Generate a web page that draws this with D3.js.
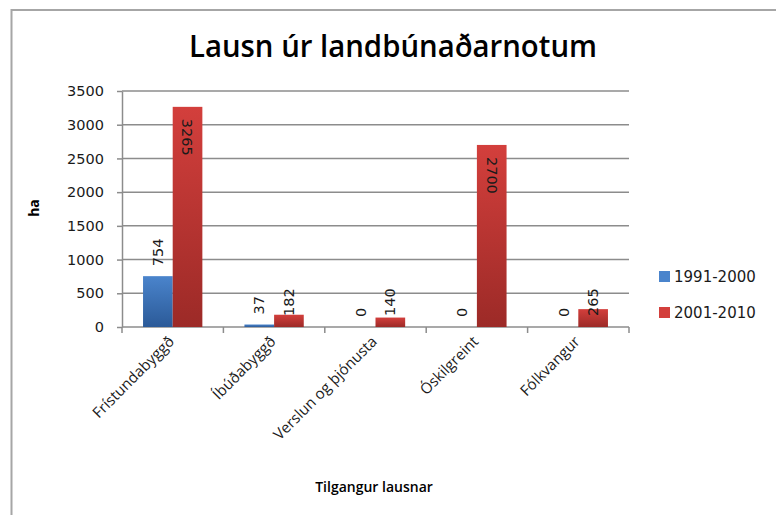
<!DOCTYPE html>
<html>
<head>
<meta charset="utf-8">
<script src="https://cdn.jsdelivr.net/npm/d3@7"></script>
<style>
    body { margin: 0; background: #fff; }
    svg { display: block; }
</style>
</head>
<body>
<div id="chart"></div>
<script>

const categories = ['Frístundabyggð', 'Íbúðabyggð', 'Verslun og þjónusta', 'Óskilgreint', 'Fólkvangur']
const seriesNames = ['1991-2000', '2001-2010']
const values1991 = [754, 37, 0, 0, 0]
const values2001 = [3265, 182, 140, 2700, 265]
const yTicks = [0, 500, 1000, 1500, 2000, 2500, 3000, 3500]

const width = 776, height = 515
const plot = { left: 122, right: 629, top: 91, bottom: 327 }

let svg = d3.select('#chart').append('svg')
    .attr('width', width)
    .attr('height', height)

// chart frame (runs off the right / bottom edge)
svg.append('rect')
    .attr('x', 11.5)
    .attr('y', 10)
    .attr('width', 900)
    .attr('height', 600)
    .style('fill', '#fff')
    .style('stroke', '#a6a6a6')
    .attr('stroke-width', 2)

let defs = svg.append('defs')
let gradColors = [['#4a84cc', '#2b5a98'], ['#d33f3c', '#9c2a27']]
gradColors.forEach(function (c, i) {
    let g = defs.append('linearGradient')
        .attr('id', 'grad' + i)
        .attr('x1', '0%').attr('y1', '0%')
        .attr('x2', '0%').attr('y2', '100%')
    g.append('stop').attr('offset', '0%').style('stop-color', c[0])
    g.append('stop').attr('offset', '100%').style('stop-color', c[1])
})

let x = d3.scaleBand()
    .domain(categories)
    .range([plot.left, plot.right])
    .paddingInner(0)
    .paddingOuter(0)

let y = d3.scaleLinear()
    .domain([0, 3500])
    .range([plot.bottom, plot.top])

let groupWidth = x.bandwidth() * 0.585
let xSub = d3.scaleBand()
    .domain(seriesNames)
    .range([-groupWidth / 2, groupWidth / 2])

// gridlines
svg.append('g')
    .selectAll('line')
    .data(yTicks.filter(d => d > 0))
    .join('line')
    .attr('x1', plot.left)
    .attr('x2', plot.right)
    .attr('y1', d => y(d))
    .attr('y2', d => y(d))
    .style('stroke', '#8c8c8c')
    .attr('stroke-width', 1.5)

// y axis
let yAxis = svg.append('g')
    .attr('transform', 'translate(' + plot.left + ',0)')
    .call(d3.axisLeft(y).tickValues(yTicks).tickFormat(d3.format('d'))
        .tickSize(5).tickPadding(13).tickSizeOuter(0))
yAxis.select('.domain').style('stroke', '#8c8c8c').attr('stroke-width', 1.5)
yAxis.selectAll('.tick line').style('stroke', '#8c8c8c').attr('stroke-width', 1.5)
yAxis.selectAll('.tick text')
    .style('font-family', '"DejaVu Sans", sans-serif')
    .style('font-size', '14.5px')
    .style('fill', '#1a1a1a')

// x axis
let xAxis = svg.append('g')
    .attr('transform', 'translate(0,' + plot.bottom + ')')
xAxis.append('line')
    .attr('x1', plot.left).attr('x2', plot.right)
    .style('stroke', '#8c8c8c')
    .attr('stroke-width', 1.5)
let bounds = categories.map(c => x(c)).concat([x(categories[categories.length - 1]) + x.bandwidth()])
xAxis.selectAll('.xtick')
    .data(bounds)
    .join('line')
    .attr('class', 'xtick')
    .attr('x1', d => d).attr('x2', d => d)
    .attr('y1', 0).attr('y2', 6)
    .style('stroke', '#8c8c8c')
    .attr('stroke-width', 1.5)

xAxis.selectAll('.xlabel')
    .data(categories)
    .join('text')
    .attr('class', 'xlabel')
    .attr('transform', d => 'translate(' + (x(d) + x.bandwidth() / 2 - 6) + ',7) rotate(-45)')
    .attr('dy', '0.8em')
    .attr('text-anchor', 'end')
    .style('font-family', '"Open Sans", sans-serif')
    .style('font-size', '15px')
    .style('fill', '#1a1a1a')
    .text(d => d)

// bars
let rows = categories.map(function (c, i) {
    return { cat: c, vals: [values1991[i], values2001[i]] }
})

let groups = svg.append('g')
    .selectAll('g')
    .data(rows)
    .join('g')
    .attr('transform', d => 'translate(' + (x(d.cat) + x.bandwidth() / 2) + ',0)')

groups.selectAll('rect')
    .data(d => d.vals.map((v, i) => ({ v: v, s: i })))
    .join('rect')
    .attr('x', d => xSub(seriesNames[d.s]))
    .attr('width', xSub.bandwidth())
    .attr('y', d => y(d.v))
    .attr('height', d => y(0) - y(d.v))
    .style('fill', d => 'url(#grad' + d.s + ')')

// data labels: blue outside end, red inside end (short red bars pushed up off the axis)
function inside(d) { return d.s == 1 && y(0) - y(d.v) > 80 }

groups.selectAll('text')
    .data(d => d.vals.map((v, i) => ({ v: v, s: i })))
    .join('text')
    .attr('transform', function (d) {
        let cx = xSub(seriesNames[d.s]) + xSub.bandwidth() / 2
        if (d.s == 0) return 'translate(' + cx + ',' + (y(d.v) - 10) + ') rotate(-90)'
        if (inside(d)) return 'translate(' + cx + ',' + (y(d.v) + 12) + ') rotate(90)'
        return 'translate(' + cx + ',' + (y(0) - 11) + ') rotate(-90)'
    })
    .attr('text-anchor', 'start')
    .attr('dy', '0.35em')
    .style('font-family', '"DejaVu Sans", sans-serif')
    .style('font-size', '14.5px')
    .style('fill', '#1a1a1a')
    .text(d => d.v)

// titles
svg.append('text')
    .attr('x', 393)
    .attr('y', 57)
    .attr('text-anchor', 'middle')
    .attr('textLength', 408)
    .attr('lengthAdjust', 'spacingAndGlyphs')
    .style('font-family', '"Open Sans", sans-serif')
    .style('font-weight', 600)
    .style('font-size', '31px')
    .style('fill', '#000')
    .text('Lausn úr landbúnaðarnotum')

svg.append('text')
    .attr('transform', 'translate(39,208) rotate(-90)')
    .attr('text-anchor', 'middle')
    .style('font-family', '"Open Sans", sans-serif')
    .style('font-weight', 700)
    .style('font-size', '14px')
    .style('fill', '#000')
    .text('ha')

svg.append('text')
    .attr('x', 374)
    .attr('y', 492)
    .attr('text-anchor', 'middle')
    .style('font-family', '"Open Sans", sans-serif')
    .style('font-weight', 600)
    .style('font-size', '14px')
    .style('fill', '#000')
    .text('Tilgangur lausnar')

// legend
let legend = svg.append('g')
    .selectAll('g')
    .data(seriesNames)
    .join('g')
    .attr('transform', (d, i) => 'translate(659,' + (271 + i * 36) + ')')

legend.append('rect')
    .attr('width', 11)
    .attr('height', 11)
    .style('fill', (d, i) => gradColors[i][0])

legend.append('text')
    .attr('x', 15)
    .attr('y', 6)
    .attr('dy', '0.36em')
    .style('font-family', '"DejaVu Sans", sans-serif')
    .style('font-size', '15px')
    .style('fill', '#1a1a1a')
    .text(d => d)

</script>
</body>
</html>
